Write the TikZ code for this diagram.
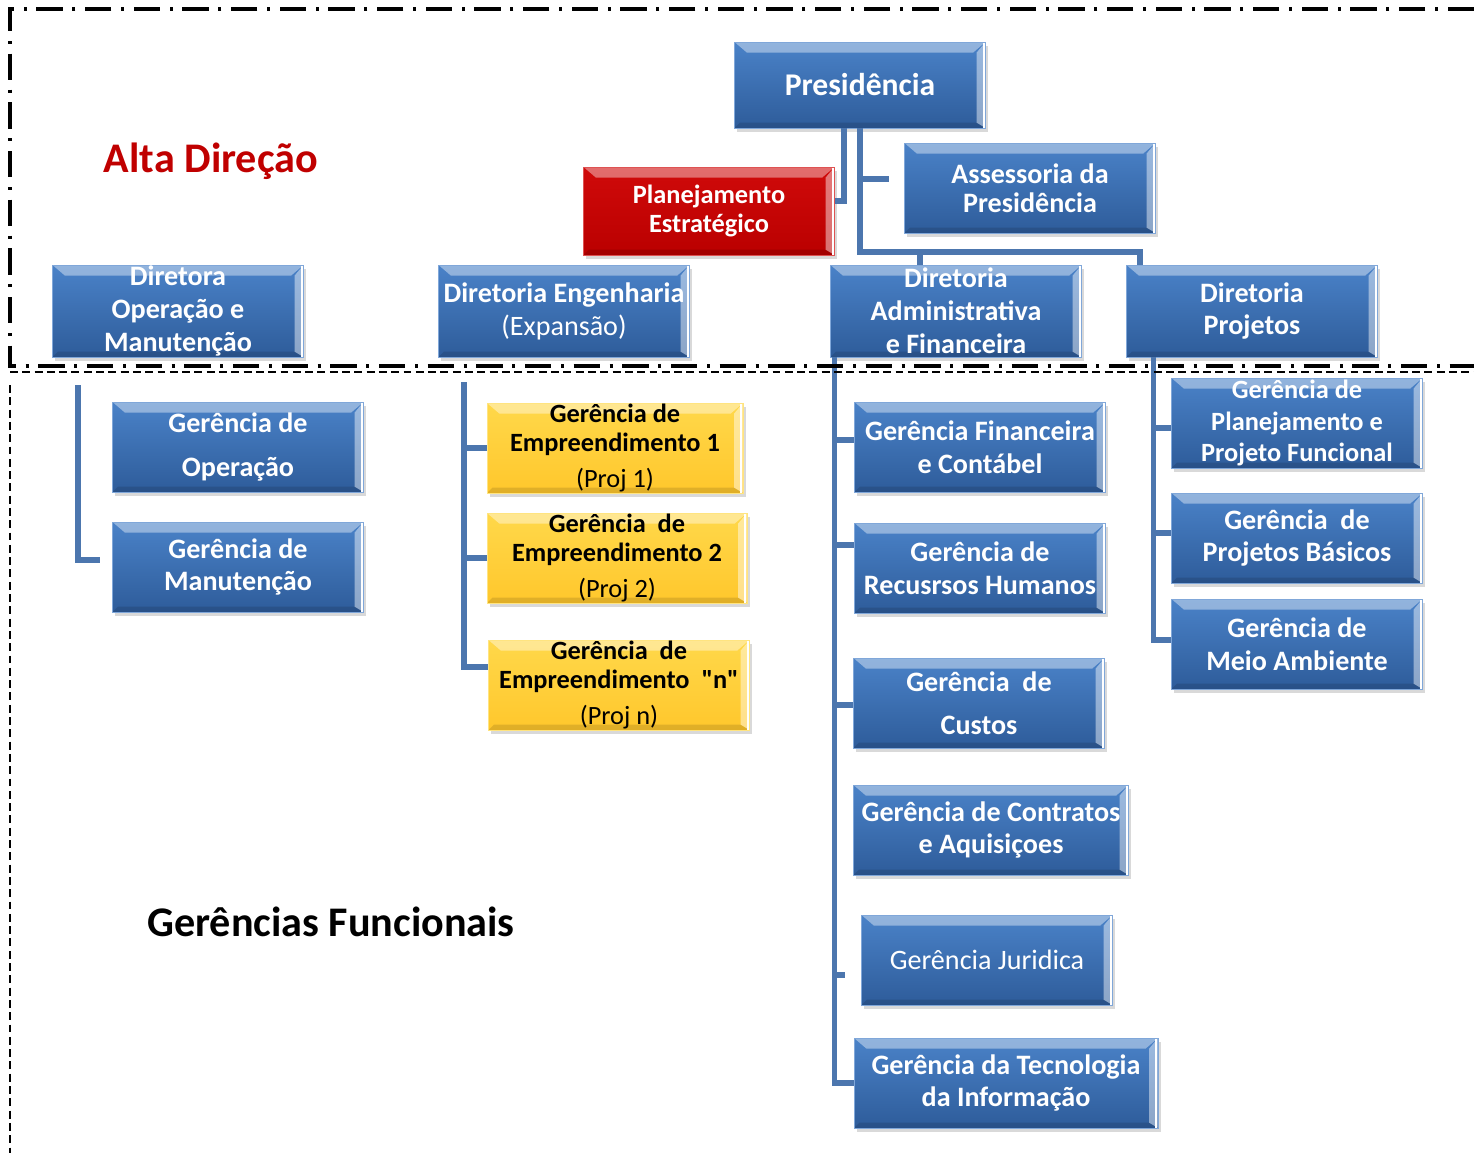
\documentclass[tikz,border=0pt]{standalone}
\usepackage{fontspec}
\setmainfont{Carlito}[Ligatures=TeXOff]
\usetikzlibrary{shadows}
\usetikzlibrary{backgrounds}
\usetikzlibrary{arrows.meta,positioning,calc}
\definecolor{blue_box_top}{HTML}{4A82C8}
\definecolor{blue_box_bottom}{HTML}{2E5C9A}
\definecolor{red_box_top}{HTML}{D00A0A}
\definecolor{red_box_bottom}{HTML}{BA0000}
\definecolor{yellow_box_top}{HTML}{FFD84A}
\definecolor{yellow_box_bottom}{HTML}{FFC72C}
\definecolor{connector_colour}{HTML}{4C76AE}
\definecolor{alta_direcao_red}{HTML}{C00000}
\tikzset{
bevel/.style={path picture={
\fill[white, opacity=0.4] (path picture bounding box.north west) -- (path picture bounding box.north east)
    -- ([xshift=-7pt,yshift=-6pt]path picture bounding box.north east) -- ([xshift=7pt,yshift=-6pt]path picture bounding box.north west) -- cycle;
\fill[white, opacity=0.45] (path picture bounding box.north east) -- (path picture bounding box.south east)
    -- ([xshift=-5pt,yshift=3pt]path picture bounding box.south east) -- ([xshift=-5pt,yshift=-6pt]path picture bounding box.north east) -- cycle;
\fill[black, opacity=0.12] (path picture bounding box.south west) -- (path picture bounding box.south east)
    -- ([xshift=-5pt,yshift=3pt]path picture bounding box.south east) -- ([xshift=3pt,yshift=3pt]path picture bounding box.south west) -- cycle;
\draw[white, line width=1pt] ([xshift=-1pt]path picture bounding box.north east) -- ([xshift=-1pt]path picture bounding box.south east);}}
}
\tikzstyle{box_node} = [rectangle, align=center, inner sep=0pt, minimum width=5.02cm, minimum height=1.8cm, line width=0.4pt,
    drop shadow={shadow xshift=1.5pt, shadow yshift=-2.5pt, opacity=0.3}, bevel]
\tikzstyle{blue_box_node} = [box_node, top color=blue_box_top, bottom color=blue_box_bottom, draw=blue_box_top!70!white,
    text=white, font=\fontsize{16}{18.7}\selectfont\bfseries]
\tikzstyle{red_box_node} = [box_node, top color=red_box_top, bottom color=red_box_bottom, draw=red_box_top!70!white,
    text=white, font=\fontsize{15}{16}\selectfont\bfseries]
\tikzstyle{yellow_box_node} = [box_node, top color=yellow_box_top, bottom color=yellow_box_bottom, draw=yellow_box_top!70!white,
    text=black, font=\fontsize{15}{16.4}\selectfont\bfseries]
\tikzstyle{connector_line} = [draw=connector_colour, line width=3pt]
\tikzstyle{alta_direcao_frame} = [line width=2.3pt, dash pattern=on 15pt off 5.5pt on 1.7pt off 5.5pt]
\tikzstyle{funcionais_frame} = [line width=0.9pt, dash pattern=on 4.5pt off 2.5pt]
\tikzstyle{area_label} = [font=\fontsize{24}{28}\selectfont\bfseries]

\begin{document}
\begin{tikzpicture}[x=0.02cm,y=-0.02cm]

    \useasboundingbox (0,0) rectangle (1474,1153);

    % Alta direcao
    \node[blue_box_node, minimum height=1.72cm, font=\fontsize{18}{20}\selectfont\bfseries] (presidencia) at (860,85) {Presidência};
    \node[red_box_node, minimum height=1.76cm] (planejamento_estrategico) at (709,211) {Planejamento\\Estratégico};
    \node[blue_box_node, font=\fontsize{16}{16.5}\selectfont\bfseries] (assessoria_presidencia) at (1030,188) {Assessoria da\\Presidência};

    \node[blue_box_node, minimum height=1.84cm] (diretora_operacao_manutencao) at (178,311) {Diretora\\Operação e\\Manutenção};
    \node[blue_box_node, minimum height=1.84cm] (diretoria_engenharia) at (564,311) {Diretoria Engenharia\\{\mdseries(Expansão)}};
    \node[blue_box_node, minimum height=1.84cm] (diretoria_administrativa) at (956,311) {Diretoria\\Administrativa\\e Financeira};
    \node[blue_box_node, minimum height=1.84cm] (diretoria_projetos) at (1252,311) {Diretoria\\Projetos};

    % Gerencias de operacao e manutencao
    \node[blue_box_node] (gerencia_operacao) at (238,447) {Gerência de\\[6.8pt]Operação};
    \node[blue_box_node] (gerencia_manutencao) at (238,567) {Gerência de\\Manutenção};

    % Gerencias de empreendimento
    \node[yellow_box_node, minimum width=5.12cm] (gerencia_empreendimento_1) at (615,448) {Gerência de\\Empreendimento 1\\[4pt]{\mdseries(Proj 1)}};
    \node[yellow_box_node, minimum width=5.2cm] (gerencia_empreendimento_2) at (617,558) {Gerência~~de\\Empreendimento 2\\[4pt]{\mdseries(Proj 2)}};
    \node[yellow_box_node, minimum width=5.22cm] (gerencia_empreendimento_n) at (619,685) {Gerência~~de\\Empreendimento~~"n"\\[4pt]{\mdseries(Proj n)}};

    % Gerencias administrativas
    \node[blue_box_node] (gerencia_financeira) at (980,447) {Gerência Financeira\\e Contábel};
    \node[blue_box_node] (gerencia_recursos_humanos) at (980,568) {Gerência de\\Recusrsos Humanos};
    \node[blue_box_node] (gerencia_custos) at (979,703) {Gerência~~de\\[6pt]Custos};
    \node[blue_box_node, minimum width=5.5cm] (gerencia_contratos) at (991,830) {Gerência de Contratos\\e Aquisiçoes};
    \node[blue_box_node, font=\fontsize{16}{18.7}\selectfont] (gerencia_juridica) at (987,960) {Gerência Juridica};
    \node[blue_box_node, minimum width=6.08cm] (gerencia_tecnologia) at (1006,1083) {Gerência da Tecnologia\\da Informação};

    % Gerencias de projetos
    \node[blue_box_node, font=\fontsize{15}{18}\selectfont\bfseries] (gerencia_planejamento_projeto) at (1297,423) {Gerência de\\Planejamento e\\Projeto Funcional};
    \node[blue_box_node] (gerencia_projetos_basicos) at (1297,538) {Gerência~~de\\Projetos Básicos};
    \node[blue_box_node] (gerencia_meio_ambiente) at (1297,644) {Gerência de\\Meio Ambiente};

    % Area labels
    \node[area_label, text=alta_direcao_red] (alta_direcao_label) at (211,161) {Alta Direção};
    \node[area_label] (gerencias_funcionais_label) at (331,922) {Gerências Funcionais};

    % Presidencia connections
    \coordinate (directorate_bus_right) at (1140,252);
    \coordinate (administrativa_link) at (920,252);
    \coordinate (assessoria_stub) at (889,179);
    \draw[connector_line] ($(presidencia.south)+(-16,0)$) |- ($(planejamento_estrategico.east)+(0,-10)$);
    \draw[connector_line] (presidencia.south) |- (directorate_bus_right) -- (directorate_bus_right |- diretoria_projetos.north);
    \draw[connector_line] (presidencia.south |- assessoria_stub) -- (assessoria_stub);
    \draw[connector_line] (administrativa_link) -- (administrativa_link |- diretoria_administrativa.north);

    % Operacao e manutencao
    \coordinate (operacao_bus_top) at (78,385);
    \coordinate (operacao_bus_end) at (100,560);
    \draw[connector_line] (operacao_bus_top) |- (operacao_bus_end);

    % Engenharia
    \coordinate (engenharia_bus_top) at (464,382);
    \draw[connector_line] (engenharia_bus_top) |- ($(gerencia_empreendimento_n.west)+(0,-18)$);
    \draw[connector_line] (engenharia_bus_top |- gerencia_empreendimento_1.west) -- (gerencia_empreendimento_1.west);
    \draw[connector_line] (engenharia_bus_top |- gerencia_empreendimento_2.west) -- (gerencia_empreendimento_2.west);

    % Administrativa e financeira
    \coordinate (administrativa_bus) at ($(diretoria_administrativa.south west)+(4,0)$);
    \coordinate (juridica_stub) at (845,975);
    \draw[connector_line] (administrativa_bus) |- (gerencia_tecnologia.west);
    \foreach \target/\offset in {gerencia_financeira/-7, gerencia_recursos_humanos/-23, gerencia_custos/2}
        \draw[connector_line] ($(administrativa_bus |- \target.west)+(0,\offset)$) -- ($(\target.west)+(0,\offset)$);
    \draw[connector_line] (administrativa_bus |- juridica_stub) -- (juridica_stub);

    % Projetos
    \coordinate (projetos_bus) at ($(diretoria_projetos.south west)+(27,0)$);
    \draw[connector_line] (projetos_bus) |- ($(gerencia_meio_ambiente.west)+(0,-4)$);
    \draw[connector_line] ($(projetos_bus |- gerencia_planejamento_projeto.west)+(0,5)$) -- ($(gerencia_planejamento_projeto.west)+(0,5)$);
    \draw[connector_line] ($(projetos_bus |- gerencia_projetos_basicos.west)+(0,-5)$) -- ($(gerencia_projetos_basicos.west)+(0,-5)$);

    % Frames
    \draw[alta_direcao_frame] (1474,9) -- (10,9) -- (10,366) -- (1474,366);
    \draw[funcionais_frame] (10,372) -- (1474,372);
    \draw[funcionais_frame] (10,385) -- (10,1153);

\end{tikzpicture}
\end{document}
